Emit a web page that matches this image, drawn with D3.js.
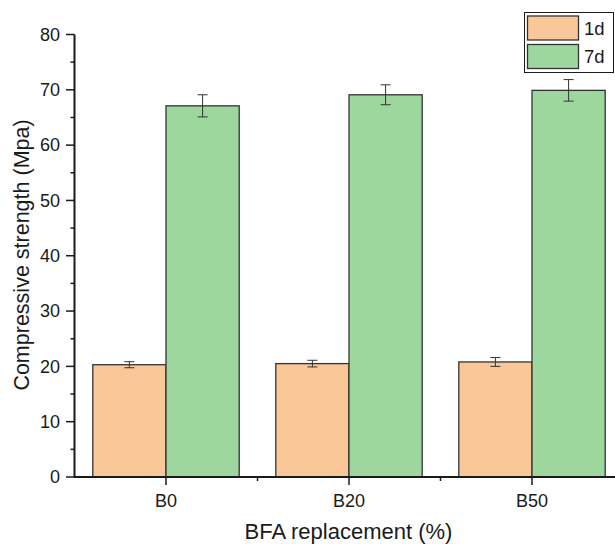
<!DOCTYPE html>
<html><head><meta charset="utf-8">
<script src="https://cdn.jsdelivr.net/npm/d3@7"></script>
<style>body{margin:0;background:#fff}svg{display:block}svg text{font-family:"Liberation Sans";}</style>
</head><body><svg id="c" width="615" height="544"></svg>
<script>
const categories = ["B0", "B20", "B50"];
const seriesNames = ["1d", "7d"];
const values1d = [20.3, 20.5, 20.8];
const errors1d = [0.55, 0.6, 0.8];
const values7d = [67.1, 69.1, 69.9];
const errors7d = [2.0, 1.8, 1.95];
const colors = ["#FAC898", "#9ED79E"];
const yTicks = [0, 10, 20, 30, 40, 50, 60, 70, 80];
const yMinorTicks = [5, 15, 25, 35, 45, 55, 65, 75];

const svg = d3.select("#c");
const x = d3.scaleLinear().domain([0.5, 3.5]).range([74.5, 623.5]);
const y = d3.scaleLinear().domain([0, 80]).range([477, 34.5]);
const barW = 0.4;
const ink = "#1a1a1a";

const series = [
  {name: seriesNames[0], vals: values1d, errs: errors1d, off: -barW/2, color: colors[0]},
  {name: seriesNames[1], vals: values7d, errs: errors7d, off: barW/2, color: colors[1]}
];

series.forEach(s => {
  const g = svg.append("g");
  g.selectAll("rect").data(s.vals).join("rect")
    .attr("x", (d,i) => x(i+1+s.off-barW/2))
    .attr("width", x(barW) - x(0))
    .attr("y", d => y(d))
    .attr("height", d => y(0) - y(d))
    .attr("fill", s.color).attr("stroke", "#333").attr("stroke-width", 1.3);
  s.vals.forEach((v,i) => {
    const cx = x(i+1+s.off), t = y(v + s.errs[i]), b = y(v - s.errs[i]);
    g.append("line").attr("x1",cx).attr("x2",cx).attr("y1",t).attr("y2",b).attr("stroke","#333").attr("stroke-width",1);
    [t,b].forEach(yy => g.append("line").attr("x1",cx-5).attr("x2",cx+5).attr("y1",yy).attr("y2",yy).attr("stroke","#333").attr("stroke-width",1));
  });
});

// Y axis
const ya = svg.append("g");
ya.append("line").attr("x1",74.5).attr("x2",74.5).attr("y1",y(80)).attr("y2",y(0)+1).attr("stroke",ink).attr("stroke-width",2);
yTicks.forEach(t => {
  ya.append("line").attr("x1",66).attr("x2",74.5).attr("y1",y(t)).attr("y2",y(t)).attr("stroke",ink).attr("stroke-width",1.5);
  ya.append("text").attr("x",60).attr("y",y(t)+6.3).attr("text-anchor","end").attr("font-size",18).attr("fill",ink).text(t);
});
yMinorTicks.forEach(t => {
  ya.append("line").attr("x1",70.5).attr("x2",74.5).attr("y1",y(t)).attr("y2",y(t)).attr("stroke",ink).attr("stroke-width",1.5);
});

// X axis
const xa = svg.append("g");
xa.append("line").attr("x1",74).attr("x2",615).attr("y1",y(0)).attr("y2",y(0)).attr("stroke",ink).attr("stroke-width",2);
categories.forEach((c,i) => {
  xa.append("line").attr("x1",x(i+1)).attr("x2",x(i+1)).attr("y1",y(0)).attr("y2",y(0)+8).attr("stroke",ink).attr("stroke-width",1.5);
  xa.append("text").attr("x",x(i+1)).attr("y",507).attr("text-anchor","middle").attr("font-size",18).attr("fill",ink).text(c);
});
[1.5, 2.5].forEach(m => xa.append("line").attr("x1",x(m)).attr("x2",x(m)).attr("y1",y(0)).attr("y2",y(0)+4).attr("stroke",ink).attr("stroke-width",1.5));

// Axis titles
svg.append("text").attr("x",348.5).attr("y",539).attr("text-anchor","middle").attr("font-size",22).attr("fill",ink).text("BFA replacement (%)");
svg.append("text").attr("transform","translate(29,255) rotate(-90)").attr("text-anchor","middle").attr("font-size",21.5).attr("fill",ink).text("Compressive strength (Mpa)");

// Legend
const lg = svg.append("g");
lg.append("rect").attr("x",524.5).attr("y",12.5).attr("width",89).attr("height",60).attr("fill","#fff").attr("stroke",ink).attr("stroke-width",1);
series.forEach((s,i) => {
  lg.append("rect").attr("x",527.5).attr("y",16+i*28.5).attr("width",51).attr("height",24).attr("fill",s.color).attr("stroke","#333").attr("stroke-width",1.3);
  lg.append("text").attr("x",584).attr("y",34.5+i*28.5).attr("font-size",18.5).attr("fill",ink).text(s.name);
});
</script></body></html>
